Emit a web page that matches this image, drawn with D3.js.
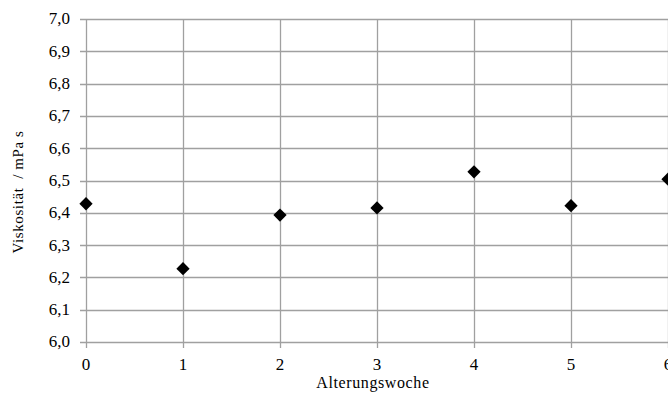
<!DOCTYPE html>
<html>
<head>
<meta charset="utf-8">
<script src="https://cdn.jsdelivr.net/npm/d3@7"></script>
<style>
body { margin: 0; background: #fff; }
svg { display: block; }
</style>
</head>
<body>
<div id="chart"></div>
<script>
// Alterungswoche vs Viskosität
var weeks = [0, 1, 2, 3, 4, 5, 6];
var viscosity = [6.428, 6.227, 6.393, 6.415, 6.527, 6.422, 6.504];
var yTicks = [6.0, 6.1, 6.2, 6.3, 6.4, 6.5, 6.6, 6.7, 6.8, 6.9, 7.0];
var xTicks = [0, 1, 2, 3, 4, 5, 6];

var W = 668, H = 396;
var m = {left: 86, right: 0, top: 19, bottom: 54};
var FONT = '"Liberation Serif", "DejaVu Serif", serif';

var svg = d3.select('#chart').append('svg')
	.attr('width', W)
	.attr('height', H)
	.attr('font-family', FONT);

var x = d3.scaleLinear().domain([0, 6]).range([m.left, W - m.right]);
var y = d3.scaleLinear().domain([6, 7]).range([H - m.bottom, m.top]);

var fmt = function(d){ return d3.format('.1f')(d).replace('.', ','); };

// gridlines
svg.append('g').selectAll('line').data(yTicks).enter().append('line')
	.attr('x1', m.left - 6).attr('x2', W)
	.attr('y1', function(d){ return Math.round(y(d)) + 0.5; })
	.attr('y2', function(d){ return Math.round(y(d)) + 0.5; })
	.attr('stroke', '#a0a0a0').attr('stroke-width', 1.3);

svg.append('g').selectAll('line').data(xTicks).enter().append('line')
	.attr('x1', function(d){ return Math.round(x(d)) + 0.5; })
	.attr('x2', function(d){ return Math.round(x(d)) + 0.5; })
	.attr('y1', m.top).attr('y2', H - m.bottom + 6)
	.attr('stroke', '#a0a0a0').attr('stroke-width', 1.3);

// tick labels
svg.append('g').selectAll('text').data(yTicks).enter().append('text')
	.attr('x', 70)
	.attr('y', function(d){ return y(d); })
	.attr('dy', '0.32em')
	.attr('text-anchor', 'end')
	.attr('font-family', FONT)
	.attr('font-size', 17)
	.attr('fill', '#000')
	.text(fmt);

svg.append('g').selectAll('text').data(xTicks).enter().append('text')
	.attr('x', function(d){ return x(d); })
	.attr('y', 370)
	.attr('text-anchor', 'middle')
	.attr('font-family', FONT)
	.attr('font-size', 17)
	.attr('fill', '#000')
	.text(function(d){ return d; });

// axis titles
svg.append('text')
	.attr('x', 373)
	.attr('y', 388)
	.attr('text-anchor', 'middle')
	.attr('font-family', FONT)
	.attr('font-size', 16)
	.attr('letter-spacing', 0.6)
	.attr('fill', '#000')
	.text('Alterungswoche');

svg.append('text')
	.attr('transform', 'translate(23,' + 192 + ') rotate(-90)')
	.attr('text-anchor', 'middle')
	.attr('font-family', FONT)
	.attr('font-size', 15)
	.attr('letter-spacing', 0.6)
	.attr('fill', '#000')
	.style('white-space', 'pre')
	.text('Viskosität  / mPa s');

// markers
var diamond = d3.symbol().type(d3.symbolSquare).size(88);
svg.append('g').selectAll('path').data(weeks).enter().append('path')
	.attr('d', diamond)
	.attr('transform', function(d, i){
		return 'translate(' + x(d) + ',' + y(viscosity[i]) + ') rotate(45)';
	})
	.attr('fill', '#000');
</script>
</body>
</html>
